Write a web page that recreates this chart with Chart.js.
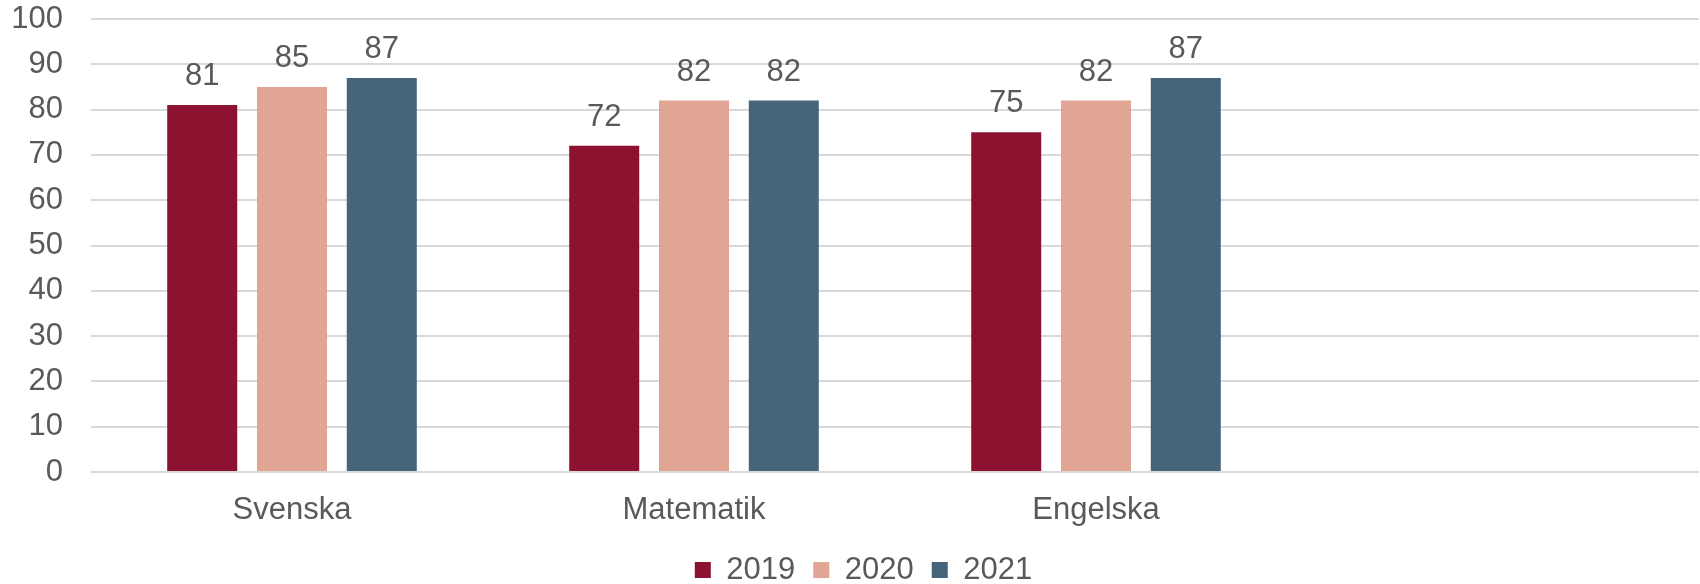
<!DOCTYPE html>
<html>
<head>
<meta charset="utf-8">
<script src="https://cdn.jsdelivr.net/npm/chart.js@4"></script>
<style>
  html, body { margin: 0; padding: 0; background: #fff; }
  #wrap { width: 1700px; height: 584px; }
</style>
</head>
<body>
<div id="wrap"><canvas id="chart" width="1700" height="584"></canvas></div>
<script>
// data
const categories = ['Svenska', 'Matematik', 'Engelska', ''];
const years = ['2019', '2020', '2021'];
const values2019 = [81, 72, 75, null];
const values2020 = [85, 82, 82, null];
const values2021 = [87, 82, 87, null];
const yTicks = [0, 10, 20, 30, 40, 50, 60, 70, 80, 90, 100];

const colors = ['#8C1230', '#E0A593', '#46647A'];
const textColor = '#595959';
const fontFamily = '"Liberation Sans", Arial, sans-serif';
const fontSize = 31;

// labels above the bars
const barLabels = {
  id: 'barLabels',
  afterLayout(chart) {
    // legend sits a bit right of the canvas centre in the original
    chart.legend.left = 28;
    chart.legend.right = 1699;
  },
  afterDatasetsDraw(chart) {
    const ctx = chart.ctx;
    ctx.save();
    ctx.font = fontSize + 'px ' + fontFamily;
    ctx.fillStyle = textColor;
    ctx.textAlign = 'center';
    ctx.textBaseline = 'alphabetic';
    chart.data.datasets.forEach((ds, i) => {
      chart.getDatasetMeta(i).data.forEach((bar, j) => {
        if (ds.data[j] == null) return;
        ctx.fillText(ds.data[j], bar.x, bar.y - 20);
      });
    });
    ctx.restore();
  }
};

const ctx = document.getElementById('chart').getContext('2d');
new Chart(ctx, {
  type: 'bar',
  data: {
    labels: categories,
    datasets: [
      { label: years[0], data: values2019, backgroundColor: colors[0] },
      { label: years[1], data: values2020, backgroundColor: colors[1] },
      { label: years[2], data: values2021, backgroundColor: colors[2] }
    ]
  },
  options: {
    responsive: false,
    animation: false,
    devicePixelRatio: 1,
    categoryPercentage: 0.67,
    barPercentage: 0.78,
    layout: { padding: { left: 0, right: 1, top: 19, bottom: -11.5 } },
    plugins: {
      legend: {
        position: 'bottom',
        labels: {
          boxWidth: 16,
          boxHeight: 16,
          padding: 18,
          color: textColor,
          font: { family: fontFamily, size: fontSize }
        }
      },
      tooltip: { enabled: false }
    },
    scales: {
      x: {
        afterFit: function(axis) { axis.height = 64.5; },
        grid: { display: false, drawTicks: false },
        border: { display: false },
        ticks: {
          padding: 20,
          color: textColor,
          font: { family: fontFamily, size: fontSize }
        }
      },
      y: {
        min: 0,
        max: 100,
        afterBuildTicks: function(axis) {
          axis.ticks = yTicks.map(v => ({ value: v }));
        },
        afterFit: function(axis) {
          axis.width = 91;
          axis.paddingTop = 0;
          axis.paddingBottom = 0;
        },
        grid: { color: '#D9D9D9', lineWidth: 2, drawTicks: false },
        border: { display: false },
        ticks: {
          padding: 28,
          color: textColor,
          font: { family: fontFamily, size: fontSize }
        }
      }
    }
  },
  plugins: [barLabels]
});
</script>
</body>
</html>
